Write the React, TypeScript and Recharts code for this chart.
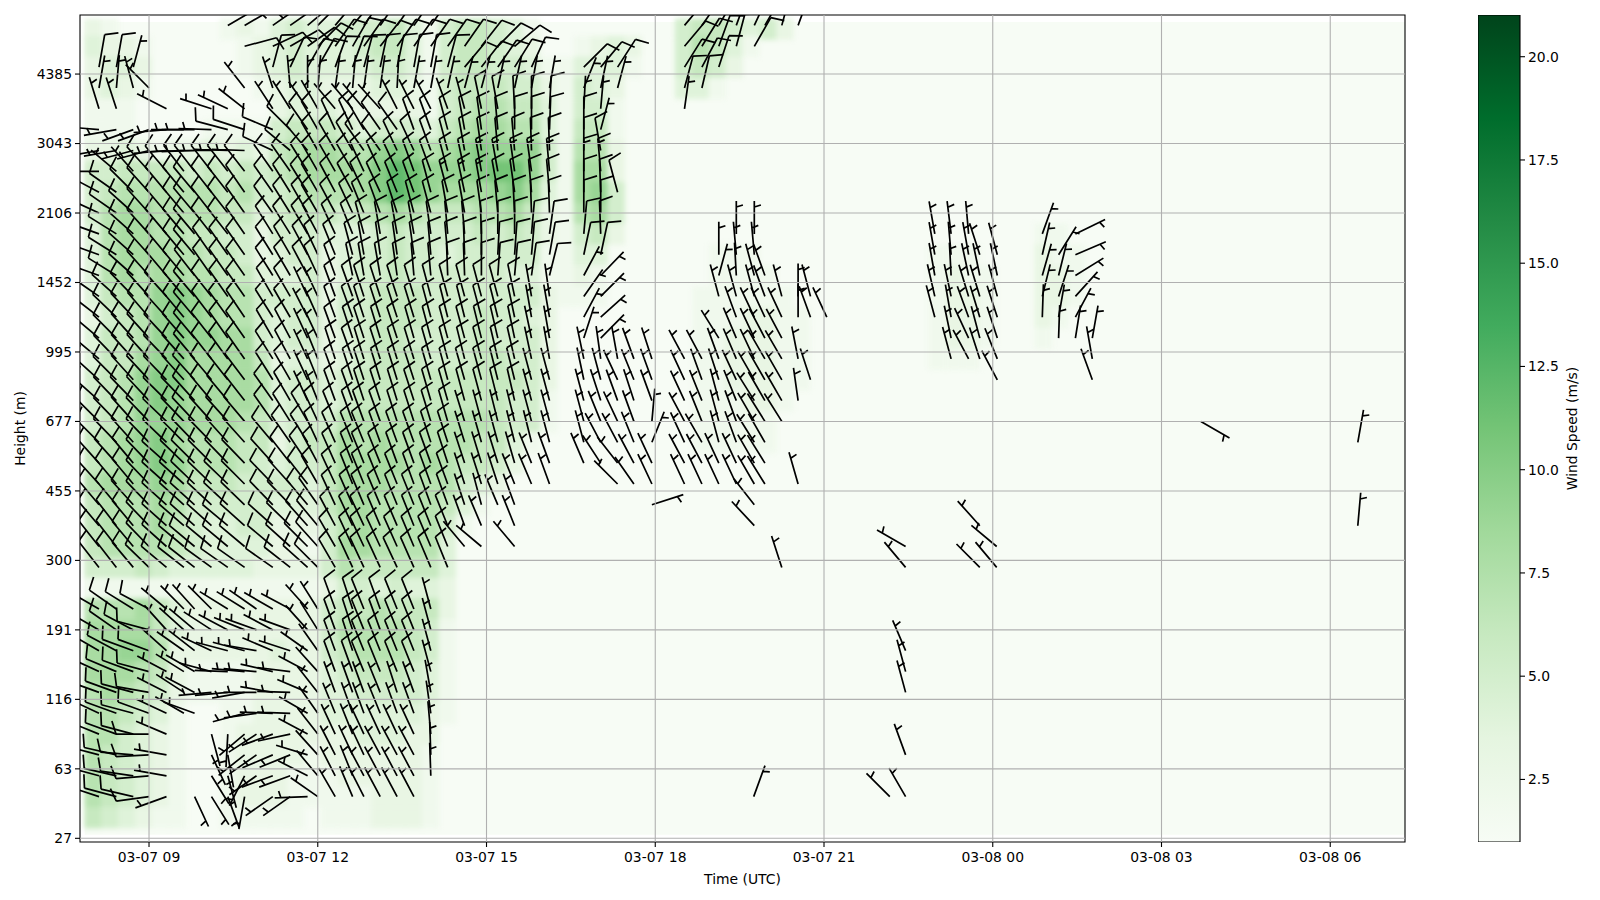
import { Bar, ComposedChart, ReferenceArea, ReferenceLine, Scatter, ScatterChart, XAxis, YAxis } from 'recharts';

const FONT = '"DejaVu Sans", sans-serif';
const TIME_DOMAIN = [7.773, 31.329];
const LEVEL_DOMAIN = [-0.53, 118.5];
const PX_PER_HOUR = 56.25;
const PX_PER_LEVEL = 6.945;
const STAFF = 33;

const timeTicks = [9, 12, 15, 18, 21, 24, 27, 30];
const timeLabels = ['03-07 09', '03-07 12', '03-07 15', '03-07 18', '03-07 21', '03-08 00', '03-08 03', '03-08 06'];
const levelTicks = [0, 10, 20, 30, 40, 50, 60, 70, 80, 90, 100, 110];
const heightLabels = ['27', '63', '116', '191', '300', '455', '677', '995', '1452', '2106', '3043', '4385'];
const colorbarTicks = [2.5, 5, 7.5, 10, 12.5, 15, 17.5, 20];
const greens = ['#f7fcf5', '#e5f5e0', '#c7e9c0', '#a1d99b', '#74c476', '#41ab5d', '#238b45', '#006d2c', '#00441b'];

// heatmap, m/s. 1 is the pale background
const heatTimes = [8.0, 8.3, 8.6, 8.9, 9.2, 9.5, 9.8, 10.1, 10.4, 10.7, 11.0, 11.3, 11.6, 11.9, 12.2, 12.5, 12.8, 13.1, 13.4, 13.7, 14.0, 14.3, 14.6, 14.9, 15.2, 15.5, 15.8, 16.1, 16.4, 16.7, 17.0, 17.3, 17.6, 17.9, 18.2, 18.5, 18.8, 19.1, 19.4, 19.7, 20.0, 20.3];
const heatLevels = [116.5, 114, 111, 108, 105, 102, 99, 96, 93, 90, 87, 84, 81, 78, 75, 72, 69, 66, 63, 60, 57, 54, 51, 48, 45, 42, 39, 36, 33, 30, 27, 24, 21, 18, 15, 12, 9, 6, 3];
const heatRows = [
  [3,2,1,1,1,1,1,1,2,3,2,4,5,4,4,5,5,5,6,4,2,5,6,6,5,4,2,1,1,1,1,1,1,1,1,5,6,6,5,4,5,3],
  [4,3,3,2,1,1,1,1,1,2,3,4,5,4,4,4,5,6,6,4,2,5,6,6,5,4,3,1,1,2,3,4,3,1,1,5,7,6,4,2,1],
  [3,4,4,3,1,1,1,1,1,2,3,4,5,4,4,4,4,5,5,4,2,5,6,6,5,5,4,2,2,4,4,4,2,1,1,5,6,5,3],
  [3,4,3,2,1,1,1,1,1,1,2,3,4,4,3,3,3,4,4,3,2,5,6,6,6,5,5,3,2,5,4,3,1,1,1,4,4,2,1],
  [2,2,2,1,1,1,1,1,1,1,1,3,4,4,4,3,3,3,3,3,2,5,6,7,7,6,6,4,2,5,5,2,1],
  [2,2,2,1,1,1,1,2,2,2,2,5,6,6,6,5,4,5,5,5,4,6,7,8,8,7,7,4,2,6,6,2,1],
  [3,3,4,3,2,3,3,4,3,4,3,6,7,8,8,7,7,9,10,9,7,8,9,10,9,9,9,5,2,7,7,3,1],
  [5,5,6,6,6,6,5,6,5,6,5,6,7,8,8,8,8,10,12,11,9,9,9,10,11,11,9,5,2,8,8,3,1],
  [5,6,7,7,7,7,7,7,6,7,5,5,6,7,7,7,8,10,12,11,9,8,8,8,9,10,8,4,2,8,9,5,1],
  [5,7,8,8,7,7,7,7,6,6,4,5,6,6,6,5,6,7,8,7,6,6,6,7,7,8,6,3,2,7,8,5,1],
  [4,7,8,8,7,7,6,6,5,5,3,5,5,5,4,4,4,5,6,5,5,5,5,6,5,6,5,3,2,5,6,3,1],
  [4,7,8,8,8,7,7,6,6,5,3,4,5,5,3,4,5,5,6,5,5,4,5,5,5,5,5,2,2,4,4,1],
  [4,7,8,7,8,8,7,7,6,6,4,4,4,5,3,4,5,5,6,5,5,5,5,5,5,4,4,2,2,3,2,1],
  [4,6,7,7,9,10,9,8,7,7,5,5,5,5,3,5,5,6,6,6,5,5,5,5,5,5,5,3,2,2,2,1],
  [3,5,6,7,9,10,9,8,7,7,5,4,5,5,3,5,5,6,6,6,5,5,5,6,5,5,4,3,1],
  [4,6,6,7,9,10,9,9,8,8,5,4,5,5,3,4,5,6,6,5,5,5,5,6,5,5,5,3,1],
  [4,6,6,8,9,10,8,8,8,8,6,3,4,4,3,4,5,6,6,6,5,5,5,6,6,5,5,3,1],
  [5,6,7,9,10,10,8,8,8,8,7,4,5,5,4,5,6,6,6,6,6,6,6,6,6,6,5,3,1],
  [5,6,7,9,10,9,8,8,8,8,7,4,5,5,4,5,6,6,6,6,6,6,6,6,6,5,5,2,1],
  [5,6,7,9,9,9,8,8,8,7,6,4,5,5,5,7,7,7,7,7,7,7,7,7,6,5,5,2,1],
  [6,7,8,9,10,8,7,7,7,6,6,3,5,6,6,8,7,8,7,7,7,7,7,6,6,4,2,1],
  [6,7,8,9,10,9,7,7,7,6,5,4,5,5,6,8,8,8,8,7,8,7,6,6,5,3,1],
  [7,8,8,8,9,8,6,6,6,5,5,5,5,4,6,8,8,8,7,7,7,7,5,4,3,1],
  [6,7,7,7,8,7,5,5,5,5,5,4,4,4,6,8,8,7,7,7,7,6,4,2,1],
  [6,7,7,7,8,6,5,4,4,5,5,3,3,3,5,7,8,7,7,7,7,5,2,1],
  [6,7,7,7,7,6,5,4,4,4,4,3,3,2,5,8,8,7,7,7,7,4,1],
  [5,5,5,6,5,4,4,4,4,4,3,3,3,3,5,7,6,6,6,6,6,4,1],
  [2,2,2,2,2,2,2,2,2,2,2,2,2,2,3,5,5,4,5,4,4,3,1],
  [7,7,7,8,6,4,3,3,3,3,3,3,3,3,5,6,6,7,6,6,6,3,1],
  [8,8,8,8,6,4,3,3,3,3,3,3,3,3,5,7,7,7,7,6,5,2,1],
  [8,8,9,9,7,3,3,3,3,3,3,4,3,3,5,6,7,7,7,6,5,2,1],
  [8,8,8,7,6,3,2,2,2,2,3,3,3,3,4,5,6,6,6,5,4,2,1],
  [7,8,7,6,5,3,2,2,2,2,3,3,3,3,4,4,5,5,5,5,4,2,1],
  [7,7,6,5,4,2,1,1,2,2,3,3,3,3,4,4,4,4,4,4,3,2,1],
  [7,7,5,4,3,2,1,1,2,3,3,3,3,3,3,3,4,4,4,3,3,1],
  [7,6,5,4,3,2,1,1,2,3,3,3,3,2,3,3,3,3,3,3,2,1],
  [7,6,5,4,3,2,1,1,2,3,3,3,2,2,2,3,3,3,3,3,2,1],
  [7,6,5,4,3,2,1,1,2,3,3,3,2,2,2,2,2,3,3,3,2,1],
  [6,5,4,3,2,2,1,1,2,2,2,2,2,1,2,2,2,3,3,3,2,1],
];

// pale patches further right
const paleTimes = [18.81, 19.11, 19.39, 19.7, 20.0, 20.3, 20.6, 23.0, 23.31, 23.61, 23.91, 24.89, 25.19, 25.49, 25.79];
const paleLevels = [87, 84, 81, 78, 75, 72, 69, 66, 63, 60, 57];
const paleRows = [
  [1,1,1,1,1,1,1,1,1,1,1,2,2,1,1],
  [1,2,2,2,1,1,1,2,2,2,1,3,2,2,1],
  [1,2,2,2,2,1,1,2,3,2,2,3,3,2,1],
  [2,2,2,2,2,2,1,2,3,3,2,3,3,2,1],
  [2,2,2,3,3,2,2,2,3,3,2,3,2,1,1],
  [2,2,3,3,3,2,2,2,3,3,2,2,1,1,1],
  [2,2,3,3,3,2,2,2,2,2,1,1],
  [2,2,3,3,3,2,2,1,1,1,1],
  [2,2,2,3,3,2,1],
  [2,2,2,2,2,1],
  [2,2,2,2,2],
];

// barbs, west block. wind from, in degrees, 0 = no barb
const westTimes = [8.11, 8.42, 8.72, 9.0, 9.31, 9.62, 9.81, 10.11, 10.4, 10.7, 11.2, 11.51, 11.82, 12.0, 12.31, 12.62, 12.82, 13.11, 13.41, 13.71, 14.01, 14.31, 14.61, 14.91, 15.2, 15.5, 15.8, 16.12, 16.73, 17.03, 17.33, 17.62, 17.94];
const westLevels = [117, 114, 111, 108, 105, 102, 99, 96, 93, 90, 87, 84, 81, 78, 75, 72, 69, 66, 63, 60, 57, 54, 51, 48, 45, 42, 39, 33, 30, 27, 24, 21, 18, 15, 12, 9, 6];
const westDirs = [
  [0,0,0,0,0,0,0,0,60,60,55,55,50,45,40,40,35,35,35,35,35],
  [0,0,0,0,0,0,0,0,0,75,65,60,55,45,35,30,35,38,35,35,35,35,35,38,45,50],
  [10,10,15,0,0,0,0,0,0,0,15,25,30,30,20,20,15,12,12,10,10,15,40,38,35,32,25,0,45,40,33],
  [10,5,345,315,0,0,0,0,0,322,342,355,360,5,8,5,8,8,3,10,10,12,15,15,12,12,10,10,22,12,15],
  [343,342,0,0,297,0,0,288,295,308,327,328,325,330,320,320,320,318,333,333,333,340,345,348,350,357,360,3,3,5],
  [275,260,250,250,265,270,270,272,285,288,293,315,325,330,335,335,330,325,325,340,340,345,350,352,355,360,360,2,360,15],
  [260,260,255,255,265,268,268,270,272,272,295,310,320,330,330,330,325,325,335,335,340,345,350,352,355,355,358,358,360,350],
  [270,310,318,318,320,322,322,322,322,322,325,325,328,330,330,330,335,335,335,340,340,345,348,350,350,352,352,355,360,355],
  [298,305,315,318,320,320,320,322,322,325,325,328,328,330,332,332,335,335,338,340,345,345,348,350,350,352,355,355,360,358,345],
  [295,305,312,318,320,320,320,322,322,325,325,328,330,330,332,335,338,340,342,345,345,350,350,352,355,357,358,358,360,360],
  [290,302,312,318,320,320,320,322,322,325,328,328,330,332,335,338,345,350,350,350,352,355,355,358,360,360,5,8,5,358],
  [290,302,312,318,320,320,320,325,325,325,328,330,332,335,338,345,350,352,352,352,355,355,358,360,3,4,5,10,12,12],
  [290,302,312,318,320,320,322,325,325,325,328,330,332,335,340,348,350,350,352,355,355,358,358,360,4,5,8,14,28,44],
  [305,312,316,318,318,320,320,322,325,325,330,330,335,335,340,340,342,342,342,343,345,345,345,345,345,348,350,352,35,45],
  [308,314,317,319,318,320,320,323,324,326,328,330,333,336,340,340,342,342,342,343,345,346,346,345,346,348,350,350,28,48],
  [310,315,318,318,317,319,320,322,325,325,330,332,335,335,340,342,342,343,342,344,345,345,345,346,347,348,348,350,18,45],
  [310,316,318,318,316,318,320,322,324,325,328,332,335,338,342,340,343,342,343,343,344,345,346,345,347,347,348,350,348,352,350,340,342],
  [312,315,318,317,316,318,318,320,322,323,328,330,335,338,340,342,342,343,343,342,344,345,344,345,346,346,345,345,348,345,335,338,340],
  [312,316,316,317,315,316,318,320,320,322,325,330,335,338,340,340,342,342,343,342,344,344,345,345,346,347,345,345,345,342,340,342,340],
  [315,316,318,316,314,316,317,318,318,320,325,328,330,335,338,340,340,340,342,342,343,344,343,345,346,346,345,345,345,338,335,340,5],
  [315,316,318,316,314,315,316,316,318,318,320,325,328,335,336,338,338,340,340,340,342,342,343,344,345,346,346,345,345,332,332,338,22],
  [318,318,320,316,312,314,315,315,316,316,318,322,326,332,336,338,338,338,340,340,340,342,342,343,343,344,338,340,337,327,322,332,335],
  [318,320,320,316,312,312,314,314,314,315,316,318,322,330,335,338,338,338,338,340,340,340,342,342,342,338,337,340,0,0,315,325,335],
  [320,320,318,316,312,312,312,313,313,314,316,316,320,325,335,336,337,337,338,338,340,340,342,345,337,340],
  [320,322,320,316,312,311,312,312,310,312,312,314,318,320,332,335,335,337,337,338,338,338,340,337,0,338],
  [322,322,320,316,312,310,310,310,310,310,310,312,315,318,330,335,335,335,336,337,337,338,320,310,0,320],
  [322,322,320,314,310,308,308,306,305,305,305,308,312,315,330,335,335,335,335,336,337,338],
  [300,305,302,298,310,315,318,315,302,302,300,298,318,328,340,342,338,340,338,338,345],
  [300,305,298,285,318,312,310,303,298,292,298,290,318,328,340,342,338,340,338,338,345],
  [300,298,290,290,312,305,308,295,285,285,293,288,305,325,340,342,338,338,338,338,345],
  [295,293,290,285,298,302,300,285,272,275,283,277,298,318,340,340,338,338,338,338,345],
  [290,290,285,280,297,303,298,265,265,260,280,272,293,322,340,340,340,338,342,340,350],
  [295,290,285,290,295,300,290,0,0,255,272,272,300,325,338,340,340,338,340,340,352],
  [292,290,285,270,293,0,0,165,183,230,250,258,298,322,335,338,335,335,335,335,355],
  [285,283,275,267,280,0,0,155,170,232,247,248,287,318,333,335,335,332,332,332,358],
  [285,283,278,265,280,0,0,148,165,207,250,250,297,320,333,338,332,332,332,332,358],
  [288,285,283,262,250,0,155,148,160,190,235,235,268,305,330,337,333,332,332,332],
];

// speed patterns of the west block, one per row below
const allFull = [10,10,10,10,10,10,10,10,10,10,10,10,10,10,10,10,10,10,10,10,10,10,10,10,10,10,10,10,10,10,10,10,10];
const allHalf = [5,5,5,5,5,5,5,5,5,5,5,5,5,5,5,5,5,5,5,5,5,5,5,5,5,5,5,5,5,5,5,5,5];
const midLevelSpeeds = [10,10,10,10,10,10,10,10,10,10,10,10,5,5,10,10,10,10,10,10,10,10,10,10,10,10,5,5,5,5,5,5,5];
const lowBandSpeeds = [10,10,10,10,10,10,10,10,10,10,10,10,10,10,10,10,10,10,10,10,10,10,5,5,5,5,5,5,5,5,5,5,5];
const nearGroundUpper = [10,10,10,10,5,5,5,5,5,5,5,5,5,5,10,10,10,10,10,10,5];
const nearGroundLower = [10,10,10,10,5,5,5,5,5,5,5,5,5,5,5,5,5,5,5,5,5];
const westSpeeds = [
  allFull,
  allFull,
  [10,10,5,10,10,10,10,10,10,10,10,10,10,10,10,10,10,10,10,10,10,10,10,10,10,10,10,10,10,10,10],
  allHalf,
  [5,5,5,5,5,5,5,5,5,5,5,5,5,5,5,5,5,5,5,5,5,5,5,10,10,10,10,10,5,5],
  [5,5,5,5,5,5,5,5,10,10,10,10,10,10,10,10,10,10,10,10,10,10,10,10,10,10,10,10,10,5],
  [5,5,5,5,5,5,5,5,5,5,10,10,10,10,10,10,10,10,10,10,10,10,10,10,10,10,10,10,10,10],
  [5,5,5,10,10,10,10,10,10,10,10,10,10,10,10,10,10,10,10,10,10,10,10,15,15,15,15,15,15,15],
  [10,10,10,10,10,10,10,10,10,10,10,10,10,10,10,10,10,10,10,10,10,15,15,15,10,10,10,10,10,10,10],
  allFull,
  allFull,
  allFull,
  [10,10,10,10,10,10,10,10,10,10,10,10,10,10,10,10,10,10,10,10,10,10,10,10,10,10,10,10,5,5],
  midLevelSpeeds,
  midLevelSpeeds,
  midLevelSpeeds,
  midLevelSpeeds,
  midLevelSpeeds,
  midLevelSpeeds,
  lowBandSpeeds,
  lowBandSpeeds,
  lowBandSpeeds,
  lowBandSpeeds,
  lowBandSpeeds,
  lowBandSpeeds,
  lowBandSpeeds,
  lowBandSpeeds,
  nearGroundUpper,
  nearGroundUpper,
  nearGroundUpper,
  nearGroundUpper,
  nearGroundLower,
  nearGroundLower,
  nearGroundLower,
  nearGroundLower,
  nearGroundLower,
  nearGroundLower,
];

// barbs, east block
const eastTimes = [18.52, 18.83, 19.13, 19.44, 19.76, 19.95, 20.25, 20.54, 20.76, 21.05, 22.97, 23.26, 23.57, 23.77, 24.08, 24.88, 25.17, 25.47, 25.77];
const eastLevels = [117, 114, 111, 108, 105, 87, 84, 81, 78, 75, 72, 69, 66, 63, 60, 57, 54, 51, 48, 45];
const eastRowSpeeds = [10, 10, 10, 10, 5, 5, 5, 5, 5, 5, 5, 5, 5, 5, 5, 5, 5, 5, 5, 5];
const eastDirs = [
  [40,35,30,20,25,30,15,20],
  [40,32,20,15,30],
  [32,28,18],
  [15,13],
  [8],
  [0,0,0,360,360,0,0,0,0,0,350,353,355,0,0,20,0,64],
  [0,0,360,355,355,0,0,0,0,0,350,355,350,342,345,13,32,67],
  [0,0,15,357,345,340,0,0,0,0,350,357,348,348,348,16,14,58],
  [0,0,345,345,345,340,345,360,345,0,347,348,343,343,345,14,18,42],
  [0,0,0,340,335,335,335,360,340,335,345,350,340,343,342,2,10,28],
  [0,0,328,337,335,332,332,0,0,0,0,348,335,345,342,0,2,9,10],
  [332,332,340,337,335,330,330,349,0,0,0,345,332,342,338,0,0,0,350],
  [335,340,342,335,330,330,330,0,342,0,0,0,0,0,332,0,0,0,340],
  [335,338,345,338,328,330,330,352],
  [332,338,345,340,330,328,328],
  [335,330,345,340,328,330],
  [332,332,335,335,330,328],
  [335,335,335,335,330,328],
  [0,0,0,0,322],
  [0,0,0,0,317],
];

// single barbs away from the blocks
const looseTimes = [10.91, 10.91, 10.91, 10.91, 10.91, 10.91, 10.91, 10.91, 10.91, 17.94, 19.75, 20.25, 20.54, 22.17, 22.45, 22.45, 22.45, 22.45, 22.45, 22.45, 22.45, 23.77, 23.77, 24.07, 24.07, 27.7, 30.49, 30.49];
const looseLevels = [33, 30, 27, 24, 21, 18, 15, 12, 9, 48, 6, 39, 51, 6, 42, 39, 27, 24, 21, 12, 6, 45, 39, 42, 39, 60, 57, 45];
const looseDirs = [305, 290, 280, 275, 270, 262, 237, 235, 235, 72, 20, 342, 344, 315, 300, 320, 337, 345, 345, 340, 330, 318, 315, 310, 320, 120, 10, 5];

const heatCells = [
  ...heatLevels.flatMap((level, r) => heatRows[r].map((speed, c) => ({ time: heatTimes[c], level, speed }))),
  ...paleLevels.flatMap((level, r) => paleRows[r].map((speed, c) => ({ time: paleTimes[c], level, speed }))),
].filter((d) => d.speed > 1);

const barbs = [
  ...westLevels.flatMap((level, r) => westDirs[r].map((dir, c) => ({ time: westTimes[c], level, dir, speed: westSpeeds[r][c] }))),
  ...eastLevels.flatMap((level, r) => eastDirs[r].map((dir, c) => ({ time: eastTimes[c], level, dir, speed: eastRowSpeeds[r] }))),
  ...looseTimes.map((time, i) => ({ time, level: looseLevels[i], dir: looseDirs[i], speed: 5 })),
].filter((d) => d.dir > 0);

const colorbarData = [{ name: 'speed', range: [0.985, 21.01] }];

function hex(c: string, i: number) {
  return parseInt(c.slice(1 + i * 2, 3 + i * 2), 16);
}

function greensColor(speed: number) {
  const t = Math.min(0.999, Math.max(0, (speed - 1) / 20)) * (greens.length - 1);
  const i = Math.floor(t);
  const f = t - i;
  const mix = [0, 1, 2].map((k) => Math.round(hex(greens[i], k) * (1 - f) + hex(greens[i + 1], k) * f));
  return `rgb(${mix.join(',')})`;
}

function HeatCell({ cx, cy, payload }: any) {
  const w = 0.3 * PX_PER_HOUR;
  const h = 3 * PX_PER_LEVEL;
  return <rect x={cx - w / 2} y={cy - h / 2} width={w + 0.5} height={h + 0.5} fill={greensColor(payload.speed)} />;
}

function WindBarb({ cx, cy, payload }: any) {
  const a = (payload.dir * Math.PI) / 180;
  const ux = Math.sin(a);
  const uy = -Math.cos(a);
  const rx = -uy;
  const ry = ux;
  const full = STAFF * 0.4;
  const tilt = STAFF * 0.125;
  const spacing = STAFF * 0.125;
  const at = (o: number, side = 0, up = 0) =>
    `${(cx + ux * (o + up) + rx * side).toFixed(1)} ${(cy + uy * (o + up) + ry * side).toFixed(1)}`;
  let d = `M${at(0)}L${at(STAFF)}`;
  let offset = STAFF;
  const fulls = Math.floor(payload.speed / 10);
  for (let i = 0; i < fulls; i++) {
    d += `M${at(offset)}L${at(offset, full, tilt)}`;
    offset -= spacing;
  }
  if (payload.speed % 10 === 5) {
    if (fulls === 0) offset -= 1.5 * spacing;
    d += `M${at(offset)}L${at(offset, full / 2, tilt / 2)}`;
  }
  return <path d={d} fill="none" stroke="#000" strokeWidth={1.7} />;
}

export default function App() {
  const tickStyle = { fontFamily: FONT, fontSize: 13.9, fill: '#000' };
  const labelStyle = { fontFamily: FONT, fontSize: 13.9, fill: '#000', textAnchor: 'middle' as const };
  const layer = { position: 'absolute' as const, left: 0, top: 0 };
  return (
    <div style={{ position: 'fixed', left: 0, top: 0, width: 1600, height: 900, background: '#fff', overflow: 'hidden' }}>
      <style>{'.heat-cells{filter:blur(2.5px)}'}</style>
      <ScatterChart width={1460} height={900} margin={{ top: 15, right: 55, bottom: 0, left: 0 }} style={layer}>
        <XAxis
          type="number"
          dataKey="time"
          domain={TIME_DOMAIN}
          ticks={timeTicks}
          interval={0}
          allowDataOverflow
          height={58}
          tick={tickStyle}
          tickSize={5}
          tickMargin={5}
          axisLine={false}
          tickLine={{ stroke: '#000', strokeWidth: 1.1 }}
          tickFormatter={(v: number) => timeLabels[timeTicks.indexOf(v)]}
          label={{ value: 'Time (UTC)', position: 'insideBottom', offset: 16, style: labelStyle }}
        />
        <YAxis
          type="number"
          dataKey="level"
          domain={LEVEL_DOMAIN}
          ticks={levelTicks}
          interval={0}
          allowDataOverflow
          width={80}
          tick={tickStyle}
          tickSize={5}
          tickMargin={3}
          axisLine={false}
          tickLine={{ stroke: '#000', strokeWidth: 1.1 }}
          tickFormatter={(v: number) => heightLabels[levelTicks.indexOf(v)]}
          label={{ value: 'Height (m)', angle: -90, position: 'insideLeft', offset: 20, style: labelStyle }}
        />
        <ReferenceArea x1={7.855} x2={TIME_DOMAIN[1]} y1={0.5} y2={117.5} fill={greens[0]} fillOpacity={1} stroke="none" />
        <Scatter data={heatCells} shape={HeatCell} className="heat-cells" isAnimationActive={false} />
        <Scatter data={barbs} shape={WindBarb} isAnimationActive={false} />
      </ScatterChart>
      {/* grid sits above the barbs in the reference, so it gets its own chart on top */}
      <ScatterChart width={1460} height={900} margin={{ top: 15, right: 55, bottom: 58, left: 80 }} style={layer}>
        <XAxis type="number" dataKey="time" domain={TIME_DOMAIN} allowDataOverflow hide />
        <YAxis type="number" dataKey="level" domain={LEVEL_DOMAIN} allowDataOverflow hide />
        {timeTicks.map((t) => (
          <ReferenceLine key={t} x={t} stroke="#b0b0b0" strokeWidth={1.1} />
        ))}
        {levelTicks.map((l) => (
          <ReferenceLine key={l} y={l} stroke="#b0b0b0" strokeWidth={1.1} />
        ))}
        <ReferenceArea x1={TIME_DOMAIN[0]} x2={TIME_DOMAIN[1]} y1={LEVEL_DOMAIN[0]} y2={LEVEL_DOMAIN[1]} fill="none" stroke="#000" strokeWidth={1.1} />
      </ScatterChart>
      <ComposedChart
        width={122}
        height={900}
        data={colorbarData}
        margin={{ top: 15, right: 0, bottom: 58, left: 0 }}
        barCategoryGap={0}
        style={{ position: 'absolute', left: 1478, top: 0 }}
      >
        <defs>
          <linearGradient id="greensRamp" x1="0" y1="1" x2="0" y2="0">
            {greens.map((c, i) => (
              <stop key={c} offset={`${(i / (greens.length - 1)) * 100}%`} stopColor={c} />
            ))}
          </linearGradient>
        </defs>
        <XAxis dataKey="name" hide />
        <YAxis
          orientation="right"
          type="number"
          domain={[0.985, 21.01]}
          ticks={colorbarTicks}
          interval={0}
          allowDataOverflow
          width={80}
          tick={tickStyle}
          tickSize={5}
          tickMargin={3}
          axisLine={false}
          tickLine={{ stroke: '#000', strokeWidth: 1.1 }}
          tickFormatter={(v: number) => v.toFixed(1)}
          label={{ value: 'Wind Speed (m/s)', angle: -90, position: 'insideRight', offset: 28, style: labelStyle }}
        />
        <Bar dataKey="range" fill="url(#greensRamp)" stroke="#000" strokeWidth={1.1} isAnimationActive={false} />
      </ComposedChart>
    </div>
  );
}
